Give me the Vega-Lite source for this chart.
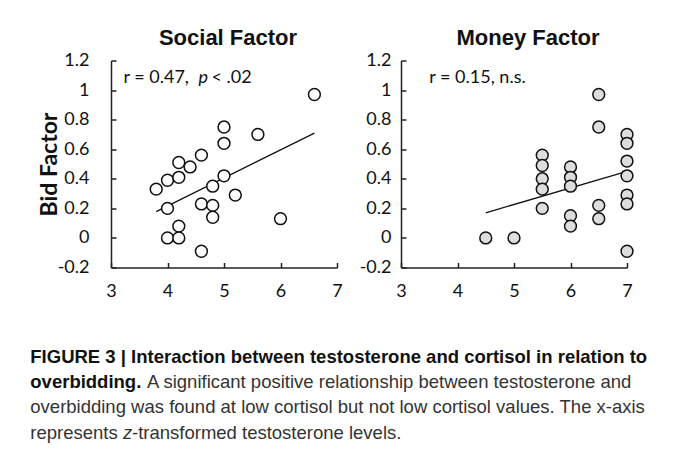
{
  "$schema": "https://vega.github.io/schema/vega-lite/v6.json",
  "background": "white",
  "padding": {"left": 30, "top": 26.5, "right": 0, "bottom": 0},
  "datasets": {
    "social": [
      {"testosterone": 6.6, "bid": 0.97}, {"testosterone": 5.0, "bid": 0.75}, {"testosterone": 5.6, "bid": 0.70},
      {"testosterone": 5.0, "bid": 0.64}, {"testosterone": 4.6, "bid": 0.56}, {"testosterone": 4.2, "bid": 0.51},
      {"testosterone": 4.4, "bid": 0.48}, {"testosterone": 4.0, "bid": 0.39}, {"testosterone": 4.2, "bid": 0.41},
      {"testosterone": 5.0, "bid": 0.42}, {"testosterone": 3.8, "bid": 0.33}, {"testosterone": 4.8, "bid": 0.35},
      {"testosterone": 5.2, "bid": 0.29}, {"testosterone": 4.0, "bid": 0.20}, {"testosterone": 4.6, "bid": 0.23},
      {"testosterone": 4.8, "bid": 0.22}, {"testosterone": 4.8, "bid": 0.14}, {"testosterone": 6.0, "bid": 0.13},
      {"testosterone": 4.2, "bid": 0.08}, {"testosterone": 4.0, "bid": 0.0}, {"testosterone": 4.2, "bid": 0.0},
      {"testosterone": 4.6, "bid": -0.09}
    ],
    "money": [
      {"testosterone": 4.5, "bid": 0.0}, {"testosterone": 5.0, "bid": 0.0},
      {"testosterone": 5.5, "bid": 0.56}, {"testosterone": 5.5, "bid": 0.49}, {"testosterone": 5.5, "bid": 0.40},
      {"testosterone": 5.5, "bid": 0.33}, {"testosterone": 5.5, "bid": 0.20},
      {"testosterone": 6.0, "bid": 0.48}, {"testosterone": 6.0, "bid": 0.41}, {"testosterone": 6.0, "bid": 0.35},
      {"testosterone": 6.0, "bid": 0.15}, {"testosterone": 6.0, "bid": 0.08},
      {"testosterone": 6.5, "bid": 0.97}, {"testosterone": 6.5, "bid": 0.75}, {"testosterone": 6.5, "bid": 0.22},
      {"testosterone": 6.5, "bid": 0.13},
      {"testosterone": 7.0, "bid": 0.70}, {"testosterone": 7.0, "bid": 0.64}, {"testosterone": 7.0, "bid": 0.52},
      {"testosterone": 7.0, "bid": 0.42}, {"testosterone": 7.0, "bid": 0.29}, {"testosterone": 7.0, "bid": 0.23},
      {"testosterone": 7.0, "bid": -0.09}
    ]
  },
  "vconcat": [
    {
      "hconcat": [
        {
          "width": 226,
          "height": 207,
          "title": {"text": "Social Factor", "font": "Liberation Sans", "fontWeight": "bold", "fontSize": 22, "color": "#111", "frame": "group", "offset": 1.3, "dx": 4},
          "encoding": {
            "x": {"field": "testosterone", "type": "quantitative",
              "scale": {"domain": [3, 7], "nice": false, "zero": false},
              "axis": {"values": [3, 4, 5, 6, 7], "labelExpr": "'' + datum.value", "labelOverlap": false, "title": null, "labelPadding": 20}},
            "y": {"field": "bid", "type": "quantitative",
              "scale": {"domain": [-0.2, 1.2], "nice": false, "zero": false},
              "axis": {"values": [-0.2, 0, 0.2, 0.4, 0.6, 0.8, 1, 1.2], "labelExpr": "'' + datum.value", "labelOverlap": false,
                "title": "Bid Factor", "titleFont": "Lato", "titleFontWeight": "bold", "titleFontSize": 23, "titleColor": "#111", "titlePadding": -4,
                "labelPadding": 27}}
          },
          "layer": [
            {
              "data": {"name": "social"},
              "transform": [{"regression": "bid", "on": "testosterone"}],
              "mark": {"type": "line", "color": "#111", "strokeWidth": 1.3}
            },
            {
              "data": {"name": "social"},
              "mark": {"type": "circle", "fill": "white", "stroke": "#111", "strokeWidth": 1.5, "size": 140, "opacity": 1}
            },
            {
              "data": {"values": [{"testosterone": 3.22, "bid": 1.05, "label": "r = 0.47,"}, {"testosterone": 4.78, "bid": 1.05, "label": "< .02"}]},
              "mark": {"type": "text", "align": "left", "baseline": "alphabetic", "font": "Lato", "fontSize": 18, "color": "#111"},
              "encoding": {"text": {"field": "label"}}
            },
            {
              "data": {"values": [{"testosterone": 4.55, "bid": 1.05, "label": "p"}]},
              "mark": {"type": "text", "align": "left", "baseline": "alphabetic", "font": "Lato", "fontStyle": "italic", "fontSize": 18, "color": "#111"},
              "encoding": {"text": {"field": "label"}}
            }
          ]
        },
        {
          "width": 226,
          "height": 207,
          "title": {"text": "Money Factor", "font": "Liberation Sans", "fontWeight": "bold", "fontSize": 22, "color": "#111", "frame": "group", "offset": 1.3, "dx": 14},
          "encoding": {
            "x": {"field": "testosterone", "type": "quantitative",
              "scale": {"domain": [3, 7], "nice": false, "zero": false},
              "axis": {"values": [3, 4, 5, 6, 7], "labelExpr": "'' + datum.value", "labelOverlap": false, "title": null, "labelPadding": 20}},
            "y": {"field": "bid", "type": "quantitative",
              "scale": {"domain": [-0.2, 1.2], "nice": false, "zero": false},
              "axis": {"values": [-0.2, 0, 0.2, 0.4, 0.6, 0.8, 1, 1.2], "labelExpr": "'' + datum.value", "labelOverlap": false,
                "title": null, "labelPadding": 15}}
          },
          "layer": [
            {
              "data": {"name": "money"},
              "transform": [{"regression": "bid", "on": "testosterone"}],
              "mark": {"type": "line", "color": "#111", "strokeWidth": 1.3}
            },
            {
              "data": {"name": "money"},
              "mark": {"type": "circle", "fill": "#dddddd", "stroke": "#111", "strokeWidth": 1.5, "size": 140, "opacity": 1}
            },
            {
              "data": {"values": [{"testosterone": 3.5, "bid": 1.05, "label": "r = 0.15, n.s."}]},
              "mark": {"type": "text", "align": "left", "baseline": "alphabetic", "font": "Lato", "fontSize": 18, "color": "#111"},
              "encoding": {"text": {"field": "label"}}
            }
          ]
        }
      ],
      "spacing": 64,
      "bounds": "flush"
    },
    {
      "width": 620,
      "height": 76,
      "encoding": {
        "y": {"field": "line", "type": "ordinal", "scale": {"type": "point", "padding": 0}, "axis": null}
      },
      "layer": [
        {
          "data": {"values": [
            {"line": 1, "text": "FIGURE 3 | Interaction between testosterone and cortisol in relation to"},
            {"line": 2, "text": "overbidding."}
          ]},
          "mark": {"type": "text", "align": "left", "baseline": "alphabetic", "font": "Liberation Sans", "fontWeight": "bold", "fontSize": 18.5, "color": "#111", "dx": -80.7},
          "encoding": {"x": {"value": 0}, "text": {"field": "text"}}
        },
        {
          "data": {"values": [
            {"line": 2, "text": "A significant positive relationship between testosterone and"}
          ]},
          "mark": {"type": "text", "align": "left", "baseline": "alphabetic", "font": "Liberation Sans", "fontSize": 18.5, "color": "#333", "dx": 36},
          "encoding": {"x": {"value": 0}, "text": {"field": "text"}}
        },
        {
          "data": {"values": [
            {"line": 3, "text": "overbidding was found at low cortisol but not low cortisol values. The x-axis"},
            {"line": 4, "text": "represents"}
          ]},
          "mark": {"type": "text", "align": "left", "baseline": "alphabetic", "font": "Liberation Sans", "fontSize": 18.5, "color": "#333", "dx": -80.7},
          "encoding": {"x": {"value": 0}, "text": {"field": "text"}}
        },
        {
          "data": {"values": [{"line": 4, "text": "z"}]},
          "mark": {"type": "text", "align": "left", "baseline": "alphabetic", "font": "Liberation Sans", "fontStyle": "italic", "fontSize": 18.5, "color": "#333", "dx": 12},
          "encoding": {"x": {"value": 0}, "text": {"field": "text"}}
        },
        {
          "data": {"values": [{"line": 4, "text": "-transformed testosterone levels."}]},
          "mark": {"type": "text", "align": "left", "baseline": "alphabetic", "font": "Liberation Sans", "fontSize": 18.5, "color": "#333", "dx": 21},
          "encoding": {"x": {"value": 0}, "text": {"field": "text"}}
        }
      ]
    }
  ],
  "spacing": 47,
  "config": {
    "view": {"stroke": null},
    "axis": {
      "grid": false,
      "domainColor": "#222",
      "domainWidth": 1.5,
      "tickColor": "#222",
      "tickWidth": 1.5,
      "tickSize": -5,
      "labelFont": "Lato",
      "labelFontSize": 18,
      "labelColor": "#111",
      "labelFlush": false,
      "labelOverlap": false
    }
  }
}
